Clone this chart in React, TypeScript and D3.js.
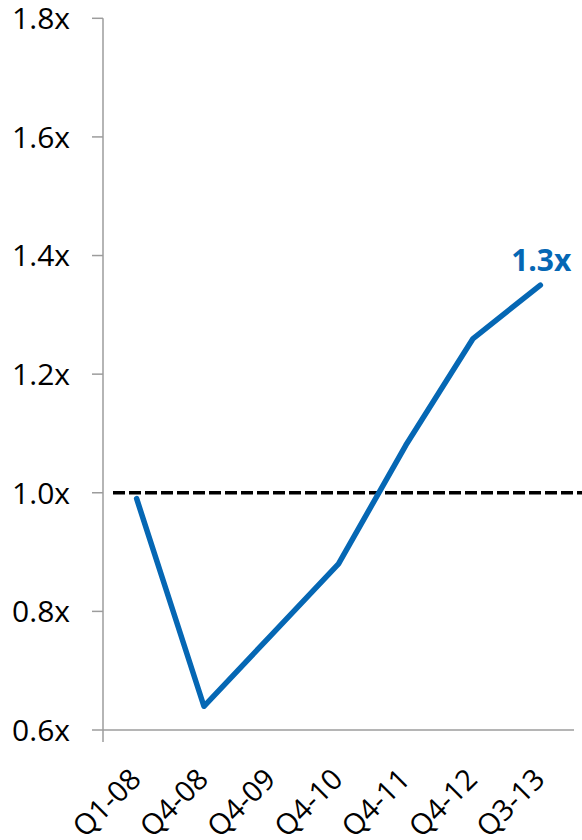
import React from "react";
import * as d3 from "d3";

// Quarterly multiple series
const categories = ["Q1-08", "Q4-08", "Q4-09", "Q4-10", "Q4-11", "Q4-12", "Q3-13"];
const multiples = [0.99, 0.64, 0.76, 0.88, 1.08, 1.26, 1.35];
const yTicks = [0.6, 0.8, 1.0, 1.2, 1.4, 1.6, 1.8];
const referenceLevel = 1.0;

const W = 582;
const H = 840;
const FONT = "'Open Sans', 'Noto Sans', sans-serif";
const BLUE = "#0567b4";
const AXIS = "#9c9c9c";

export default function App() {
  const x = d3.scaleBand<string>().domain(categories).range([103, 574]).padding(0);
  const y = d3.scaleLinear().domain([0.6, 1.8]).range([730, 18.3]);
  const cx = (c: string) => (x(c) as number) + x.bandwidth() / 2;

  const line = d3
    .line<number>()
    .x((_, i) => cx(categories[i]))
    .y((d) => y(d));

  const last = multiples.length - 1;
  const lastX = cx(categories[last]);
  const lastY = y(multiples[last]);
  const endLabel = `${(Math.floor(multiples[last] * 10) / 10).toFixed(1)}x`;

  const [x0, x1] = x.range();

  return (
    <svg
      width={W}
      height={H}
      style={{ position: "absolute", left: 0, top: 0, background: "#fff" }}
      fontFamily={FONT}
    >
      {/* y axis */}
      <line x1={x0} x2={x0} y1={y(1.8)} y2={y(0.6) + 12} stroke={AXIS} strokeWidth={1.5} />
      {yTicks.map((t) => (
        <g key={t}>
          <line x1={x0 - 11} x2={x0} y1={y(t)} y2={y(t)} stroke={AXIS} strokeWidth={1.5} />
          <text x={70} y={y(t)} dy="0.36em" textAnchor="end" fontSize={30} fill="#000">
            {t.toFixed(1)}x
          </text>
        </g>
      ))}

      {/* x axis */}
      <line x1={x0} x2={x1} y1={y(0.6)} y2={y(0.6)} stroke={AXIS} strokeWidth={1.5} />
      {categories.map((c) => (
        <text
          key={c}
          transform={`translate(${cx(c) + 6},${781}) rotate(-45)`}
          textAnchor="end"
          fontSize={29}
          fill="#000"
        >
          {c}
        </text>
      ))}

      {/* reference level */}
      <line
        x1={113}
        x2={W}
        y1={y(referenceLevel)}
        y2={y(referenceLevel)}
        stroke="#000"
        strokeWidth={3.5}
        strokeDasharray="12 4"
      />

      {/* series */}
      <path
        d={line(multiples) ?? ""}
        fill="none"
        stroke={BLUE}
        strokeWidth={5.5}
        strokeLinejoin="round"
        strokeLinecap="round"
      />
      <text
        x={lastX + 31}
        y={lastY - 14}
        textAnchor="end"
        fontSize={30}
        fontWeight="bold"
        fill={BLUE}
      >
        {endLabel}
      </text>
    </svg>
  );
}
